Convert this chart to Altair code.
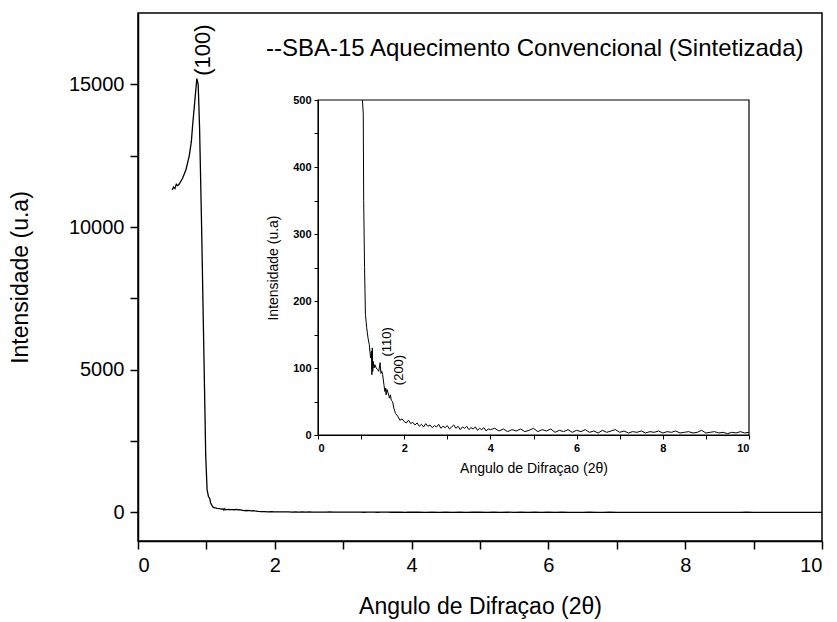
import altair as alt
import pandas as pd

# ---- data ----
angle = [0.50, 0.52, 0.54, 0.56, 0.58, 0.60, 0.65, 0.70, 0.75, 0.78, 0.80, 0.83, 0.86, 0.88,
         0.90, 0.93, 0.96, 0.99, 1.01, 1.03, 1.05, 1.06, 1.08, 1.10, 1.13, 1.16, 1.19, 1.22,
         1.24, 1.25, 1.26, 1.27, 1.28, 1.30, 1.32, 1.35, 1.38, 1.41, 1.44, 1.46, 1.48, 1.50,
         1.53, 1.55, 1.57, 1.58, 1.60, 1.63, 1.66, 1.68, 1.70, 1.73, 1.76, 1.80, 1.85, 1.90,
         1.95, 2.00,
         2.05, 2.10, 2.15, 2.20, 2.25, 2.30, 2.35, 2.40, 2.45, 2.50, 2.55, 2.60, 2.65, 2.70,
         2.75, 2.80, 2.85, 2.90, 2.95, 3.00, 3.05, 3.10, 3.15, 3.20, 3.25, 3.30, 3.35, 3.40,
         3.45, 3.50, 3.55, 3.60, 3.65, 3.70, 3.75, 3.80, 3.85, 3.90, 3.95, 4.00,
         4.1, 4.2, 4.3, 4.4, 4.5, 4.6, 4.7, 4.8, 4.9, 5.0, 5.1, 5.2, 5.3, 5.4, 5.5, 5.6, 5.7,
         5.8, 5.9, 6.0, 6.1, 6.2, 6.3, 6.4, 6.5, 6.6, 6.7, 6.8, 6.9, 7.0, 7.1, 7.2, 7.3, 7.4,
         7.5, 7.6, 7.7, 7.8, 7.9, 8.0, 8.1, 8.2, 8.3, 8.4, 8.5, 8.6, 8.7, 8.8, 8.9, 9.0, 9.1,
         9.2, 9.3, 9.4, 9.5, 9.6, 9.7, 9.8, 9.9, 10.0]
intensity = [11300, 11400, 11350, 11500, 11450, 11500, 11700, 12000, 12500, 13000, 13600, 14400, 15200, 15000,
             13500, 10000, 6000, 2000, 800, 560, 480, 350, 250, 180, 160, 145, 135, 115,
             125, 90, 130, 95, 110, 100, 105, 100, 98, 95, 108, 92, 95, 90,
             75, 65, 70, 60, 68, 62, 55, 60, 52, 50, 40, 32, 28, 22,
             24, 20,
             18, 22, 17, 19, 15, 18, 13, 16, 12, 17, 13, 15, 11, 14,
             12, 16, 10, 13, 11, 14, 9, 12, 15, 10, 13, 8, 12, 10,
             13, 8, 11, 9, 12, 7, 10, 8, 11, 6, 9, 8,
             10, 6, 9, 5, 8, 6, 9, 5, 7, 10, 5, 8, 6, 9, 4, 7, 5,
             8, 4, 7, 5, 8, 4, 6, 3, 7, 4, 6, 8, 4, 6, 3, 5, 4,
             6, 3, 5, 4, 6, 3, 5, 4, 6, 3, 4, 5, 3, 4, 7, 3, 4,
             5, 3, 4, 2, 4, 3, 5, 3, 4]

legend_text = ["--SBA-15 Aquecimento Convencional (Sintetizada)"]
legend_x = [1.87]
legend_y = [16250]

main_peak_labels = ["(100)"]
main_peak_x = [0.95]
main_peak_y = [16200]

inset_peak_labels = ["(110)", "(200)"]
inset_peak_x = [1.59, 1.87]
inset_peak_y = [139, 97]

x_title = "Angulo de Difraçao (2θ)"
y_title = "Intensidade (u.a)"

df = pd.DataFrame({"angle": angle, "intensity": intensity})
df_leg = pd.DataFrame({"angle": legend_x, "intensity": legend_y, "label": legend_text})
df_main_lab = pd.DataFrame({"angle": main_peak_x, "intensity": main_peak_y, "label": main_peak_labels})
df_inset_lab = pd.DataFrame({"angle": inset_peak_x, "intensity": inset_peak_y, "label": inset_peak_labels})
df_box = pd.DataFrame({"angle": [0], "angle2": [10], "intensity": [0], "intensity2": [500]})

FONT = "Liberation Sans"
W, H = 684, 528

# ---- main scales / axes ----
mx_scale = alt.Scale(domain=[0, 10], nice=False)
my_scale = alt.Scale(domain=[-1000, 17500], nice=False)
mx_axis = alt.Axis(
    title=x_title, orient="bottom", values=list(range(0, 11)),
    labelExpr="datum.value % 2 === 0 ? datum.label : ''",
    ticks=True, tickSize=8, tickWidth=1.5, tickOpacity=1,
    grid=False, labelFontSize=20, titleFontSize=23, labelPadding=6, titlePadding=20,
    labelFont=FONT, titleFont=FONT, titleFontWeight="normal", tickColor="black",
    domainColor="black", labelColor="black", titleColor="black", domainWidth=1.5,
    format="d",
)
my_axis = alt.Axis(
    title=y_title, orient="left", values=[0, 2500, 5000, 7500, 10000, 12500, 15000],
    labelExpr="datum.value % 5000 === 0 ? datum.label : ''",
    ticks=True, tickSize=8, tickWidth=1.5, tickOpacity=1,
    grid=False, labelFontSize=20, titleFontSize=23, labelPadding=6, titlePadding=36,
    labelFont=FONT, titleFont=FONT, titleFontWeight="normal", tickColor="black",
    domainColor="black", labelColor="black", titleColor="black", domainWidth=1.5,
    format="d",
)

main_line = alt.Chart(df).mark_line(color="black", strokeWidth=1.3).encode(
    x=alt.X("angle:Q", scale=mx_scale, axis=mx_axis),
    y=alt.Y("intensity:Q", scale=my_scale, axis=my_axis),
    order="angle:Q",
)
main_leg = alt.Chart(df_leg).mark_text(
    font=FONT, fontSize=24, align="left", baseline="middle", color="black"
).encode(
    x=alt.X("angle:Q", scale=mx_scale, axis=mx_axis),
    y=alt.Y("intensity:Q", scale=my_scale, axis=my_axis),
    text="label:N",
)
main_lab = alt.Chart(df_main_lab).mark_text(
    font=FONT, fontSize=22, align="center", baseline="middle", angle=270, color="black"
).encode(
    x=alt.X("angle:Q", scale=mx_scale, axis=mx_axis),
    y=alt.Y("intensity:Q", scale=my_scale, axis=my_axis),
    text="label:N",
)
main_layer = alt.layer(main_line, main_leg, main_lab)

# ---- inset scales / axes ----
ix_scale = alt.Scale(domain=[0, 10], range=[180, 611], nice=False)
iy_scale = alt.Scale(domain=[0, 500], range=[422, 87], nice=False, clamp=True)
ix_axis = alt.Axis(
    title=x_title, orient="bottom", offset=-106, values=list(range(0, 11)),
    labelExpr="datum.value % 2 === 0 ? datum.label : ''",
    ticks=True, tickSize=4, tickWidth=1, tickOpacity=1,
    grid=False, labelFontSize=11, labelFontWeight="bold", titleFontSize=14,
    labelPadding=3, titlePadding=8,
    labelFont=FONT, titleFont=FONT, titleFontWeight="normal", tickColor="black",
    domainColor="black", labelColor="black", titleColor="black", format="d",
)
iy_axis = alt.Axis(
    title=y_title, orient="left", offset=-180, values=list(range(0, 501, 50)),
    labelExpr="datum.value % 100 === 0 ? datum.label : ''",
    ticks=True, tickSize=4, tickWidth=1, tickOpacity=1,
    grid=False, labelFontSize=11, labelFontWeight="bold", titleFontSize=14,
    labelPadding=3, titlePadding=12,
    labelFont=FONT, titleFont=FONT, titleFontWeight="normal", tickColor="black",
    domainColor="black", labelColor="black", titleColor="black", format="d",
)

inset_box = alt.Chart(df_box).mark_rect(fill=None, stroke="black", strokeWidth=1.2).encode(
    x=alt.X("angle:Q", scale=ix_scale, axis=ix_axis),
    x2="angle2:Q",
    y=alt.Y("intensity:Q", scale=iy_scale, axis=iy_axis),
    y2="intensity2:Q",
)
inset_line = alt.Chart(df).transform_filter("datum.angle >= 1.03").mark_line(
    color="black", strokeWidth=1
).encode(
    x=alt.X("angle:Q", scale=ix_scale, axis=ix_axis),
    y=alt.Y("intensity:Q", scale=iy_scale, axis=iy_axis),
    order="angle:Q",
)
inset_lab = alt.Chart(df_inset_lab).mark_text(
    font=FONT, fontSize=13, align="center", baseline="middle", angle=270, color="black"
).encode(
    x=alt.X("angle:Q", scale=ix_scale, axis=ix_axis),
    y=alt.Y("intensity:Q", scale=iy_scale, axis=iy_axis),
    text="label:N",
)
inset_layer = alt.layer(inset_box, inset_line, inset_lab)

chart = alt.layer(main_layer, inset_layer).resolve_scale(
    x="independent", y="independent"
).properties(
    width=W, height=H,
    autosize=alt.AutoSizeParams(type="none"),
    padding={"left": 138, "top": 13, "right": 15, "bottom": 81},
    background="white",
).configure_view(stroke="black", strokeWidth=1.5)

chart.save("out.html", embed_options={"renderer": "svg", "actions": False})
